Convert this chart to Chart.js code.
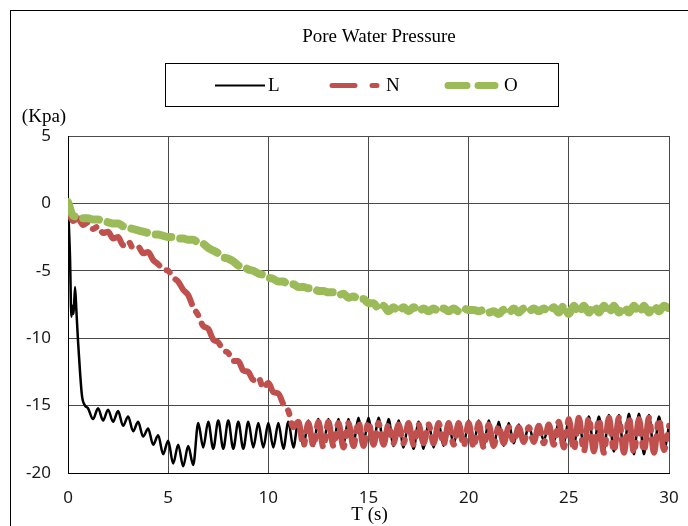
<!DOCTYPE html>
<html>
<head>
<meta charset="utf-8">
<script src="https://cdn.jsdelivr.net/npm/chart.js@4.4.1/dist/chart.umd.min.js"></script>
<style>
  html, body { margin: 0; padding: 0; background: #fff; overflow: hidden; }
  #myChart { position: absolute; left: 0; top: 0; }
</style>
</head>
<body>
<canvas id="myChart" width="688" height="526"></canvas>
<script>
//標題與圖例文字
const chartTitle = "Pore Water Pressure";
const seriesNames = ["L", "N", "O"];
const yUnit = "(Kpa)";
const xTitle = "T (s)";

//座標刻度
const xTickValues = [0, 5, 10, 15, 20, 25, 30];
const yTickValues = [-20, -15, -10, -5, 0, 5];

//取樣間隔 (s)
const tStep = 0.25;

// L: 開頭急降段 (不等間隔)
const lHeadT = [0, 0.1, 0.17, 0.22, 0.28, 0.35, 0.42, 0.5, 0.6, 0.7, 0.85];
const lHeadV = [0, -4.0, -8.4, -7.6, -8.2, -6.2, -8.0, -10.2, -12.5, -14.3, -15.0];

// L: t = 1.0 起每 0.25 s
const lStart = 1.0;
const lBody = [
  -15.2, -16.0, -15.2, -16.1,
  -15.3, -16.2, -15.4, -16.5,
  -15.8, -16.9, -16.2, -17.3,
  -16.7, -17.9, -17.2, -18.6,
  -17.6, -19.3, -17.9, -19.5,
  -18.0, -19.4, -16.3, -18.1,
  -16.2, -18.2, -16.1, -18.2,
  -16.1, -18.2, -16.2, -18.2,
  -16.2, -18.1, -16.3, -18.1,
  -16.3, -18.1, -16.3, -18.2,
  -16.2, -18.1, -16.1, -18.0,
  -16.1, -18.0, -16.0, -17.9,
  -16.0, -17.9, -16.0, -17.9,
  -16.0, -17.8, -15.9, -17.8,
  -15.9, -17.8, -15.9, -17.9,
  -16.0, -18.0, -16.1, -18.1,
  -16.2, -18.2, -16.2, -18.2,
  -16.3, -18.1, -16.3, -18.0,
  -16.3, -17.9, -16.2, -17.9,
  -16.1, -17.9, -16.1, -18.0,
  -16.1, -18.1, -16.2, -18.0,
  -16.3, -17.8, -16.4, -17.7,
  -16.5, -17.6, -16.5, -17.6,
  -16.4, -17.7, -16.2, -17.8,
  -16.0, -18.0, -15.9, -18.1,
  -15.8, -18.2, -15.8, -18.3,
  -15.7, -18.4, -15.7, -18.5,
  -15.6, -18.6, -15.6, -18.6,
  -15.7, -18.5, -15.8, -18.3,
  -16.5
];

// N: t = 0 起每 0.25 s
const nValues = [
  -0.6, -1.3, -1.1, -1.6,
  -1.4, -1.9, -1.7, -2.2,
  -2.1, -2.6, -2.5, -3.1,
  -2.8, -3.3, -3.2, -3.7,
  -3.6, -4.2, -4.5, -4.9,
  -5.0, -5.5, -5.8, -6.4,
  -6.8, -7.7, -8.3, -9.1,
  -9.3, -10.1, -10.3, -10.9,
  -11.1, -11.7, -11.7, -12.4,
  -12.5, -13.1, -12.9, -13.7,
  -13.3, -14.0, -14.1, -14.9,
  -15.4, -16.6, -16.2, -18.0,
  -16.3, -18.0, -16.2, -18.1,
  -16.2, -18.0, -16.3, -18.1,
  -16.3, -18.0, -16.2, -18.0,
  -16.2, -17.9, -16.3, -17.9,
  -16.4, -17.8, -16.4, -17.8,
  -16.3, -17.9, -16.4, -17.8,
  -16.4, -17.8, -16.3, -17.9,
  -16.3, -17.9, -16.3, -18.0,
  -16.3, -18.1, -16.3, -18.1,
  -16.4, -18.0, -16.5, -17.8,
  -16.6, -17.7, -16.6, -17.7,
  -16.6, -17.7, -16.5, -17.8,
  -16.4, -17.9, -16.2, -18.1,
  -16.0, -18.3, -15.9, -18.4,
  -15.9, -18.4, -16.0, -18.5,
  -15.9, -18.4, -15.9, -18.5,
  -15.9, -18.5, -16.0, -18.4,
  -15.9, -18.5, -16.0, -18.3,
  -16.5
];

// O: t = 0 起每 0.25 s
const oValues = [
  0.1, -0.9, -1.0, -1.1,
  -1.1, -1.2, -1.2, -1.3,
  -1.4, -1.5, -1.5, -1.7,
  -1.8, -1.9, -2.0, -2.1,
  -2.2, -2.3, -2.3, -2.4,
  -2.5, -2.5, -2.6, -2.6,
  -2.7, -2.7, -2.9, -3.0,
  -3.3, -3.5, -3.7, -4.0,
  -4.1, -4.3, -4.6, -4.7,
  -4.9, -5.0, -5.2, -5.3,
  -5.5, -5.6, -5.8, -5.8,
  -6.0, -6.0, -6.2, -6.2,
  -6.3, -6.3, -6.5, -6.5,
  -6.6, -6.6, -6.8, -6.7,
  -7.0, -6.9, -7.1, -7.1,
  -7.4, -7.4, -7.8, -7.6,
  -8.0, -7.7, -8.0, -7.7,
  -8.0, -7.7, -8.0, -7.8,
  -8.0, -7.8, -8.0, -7.8,
  -8.0, -7.8, -8.0, -7.8,
  -7.9, -7.9, -8.0, -7.9,
  -8.1, -8.0, -8.2, -7.9,
  -8.1, -7.8, -8.1, -7.8,
  -8.0, -7.8, -8.0, -7.8,
  -8.0, -7.7, -8.1, -7.6,
  -8.2, -7.6, -8.1, -7.6,
  -8.1, -7.6, -8.1, -7.6,
  -8.1, -7.6, -8.1, -7.7,
  -8.1, -7.6, -8.1, -7.6,
  -8.1, -7.6, -8.0, -7.6,
  -7.8
];

const colorL = "#000000";
const colorN = "#C0504D";
const colorO = "#9BBB59";

function toPoints(start, values) {
  return values.map((v, i) => ({ x: start + i * tStep, y: v }));
}

let lData = lHeadT.map((t, i) => ({ x: t, y: lHeadV[i] }));
lData = lData.concat(toPoints(lStart, lBody));

//標題、圖例、單位文字
const decorPlugin = {
  id: "decor",
  afterDraw(chart) {
    const ctx = chart.ctx;
    ctx.save();
    //外框
    ctx.strokeStyle = "#000";
    ctx.lineWidth = 1;
    ctx.strokeRect(10.5, 10.5, 800, 700);

    ctx.fillStyle = "#000";
    ctx.textBaseline = "middle";
    ctx.textAlign = "center";
    ctx.font = '19px "Liberation Serif"';
    ctx.fillText(chartTitle, 379, 37);
    ctx.fillText(yUnit, 44, 117);
    ctx.fillText(xTitle, 369.5, 515);

    //圖例
    ctx.strokeRect(165.5, 63.5, 393, 43);
    const items = [
      { x0: 215, x1: 265, color: colorL, width: 2, dash: [], cap: "butt", tx: 268 },
      { x0: 332, x1: 380, color: colorN, width: 5, dash: [23, 17, 5, 40], cap: "round", tx: 386 },
      { x0: 448, x1: 495, color: colorO, width: 7, dash: [19, 11], cap: "round", tx: 504 },
    ];
    items.forEach((it, i) => {
      ctx.beginPath();
      ctx.setLineDash(it.dash);
      ctx.lineCap = it.cap;
      ctx.strokeStyle = it.color;
      ctx.lineWidth = it.width;
      ctx.moveTo(it.x0, 85.5);
      ctx.lineTo(it.x1, 85.5);
      ctx.stroke();
      ctx.setLineDash([]);
      ctx.textAlign = "left";
      ctx.fillStyle = "#000";
      ctx.fillText(seriesNames[i], it.tx, 86);
    });
    ctx.restore();
  },
};

const tickFont = { family: "'Noto Sans'", size: 17 };

const config = {
  type: "line",
  data: {
    datasets: [
      {
        label: seriesNames[0],
        data: lData,
        borderColor: colorL,
        borderWidth: 2.5,
        order: 3,
      },
      {
        label: seriesNames[1],
        data: toPoints(0, nValues),
        borderColor: colorN,
        borderWidth: 6,
        borderDash: [30, 9, 4, 9],
        borderCapStyle: "round",
        borderJoinStyle: "round",
        order: 2,
      },
      {
        label: seriesNames[2],
        data: toPoints(0, oValues),
        borderColor: colorO,
        borderWidth: 8,
        borderDash: [16, 9],
        borderCapStyle: "round",
        borderJoinStyle: "round",
        order: 1,
      },
    ],
  },
  options: {
    responsive: false,
    animation: false,
    devicePixelRatio: 1,
    layout: { padding: { left: 0, top: 136, right: 19, bottom: 0 } },
    elements: {
      point: { radius: 0 },
      line: { cubicInterpolationMode: "monotone", fill: false },
    },
    plugins: {
      legend: { display: false },
      title: { display: false },
      tooltip: { enabled: false },
    },
    scales: {
      x: {
        type: "linear",
        min: 0,
        max: 30,
        afterBuildTicks: (s) => {
          s.ticks = xTickValues.map((v) => ({ value: v }));
        },
        afterFit: (s) => {
          s.height = 53;
          s.paddingLeft = 0;
          s.paddingRight = 0;
        },
        grid: { color: "#4a4a4a", drawTicks: false },
        border: { color: "#000" },
        ticks: { font: tickFont, color: "#1a1a1a", padding: 15, maxRotation: 0 },
      },
      y: {
        type: "linear",
        min: -20,
        max: 5,
        afterBuildTicks: (s) => {
          s.ticks = yTickValues.map((v) => ({ value: v }));
        },
        afterFit: (s) => {
          s.width = 68;
          s.paddingTop = 0;
          s.paddingBottom = 0;
        },
        grid: { color: "#4a4a4a", drawTicks: false },
        border: { color: "#000" },
        ticks: { font: tickFont, color: "#1a1a1a", padding: 17 },
      },
    },
  },
  plugins: [decorPlugin],
};

const ctx = document.getElementById("myChart");
const myChart = new Chart(ctx, config);
</script>
</body>
</html>
